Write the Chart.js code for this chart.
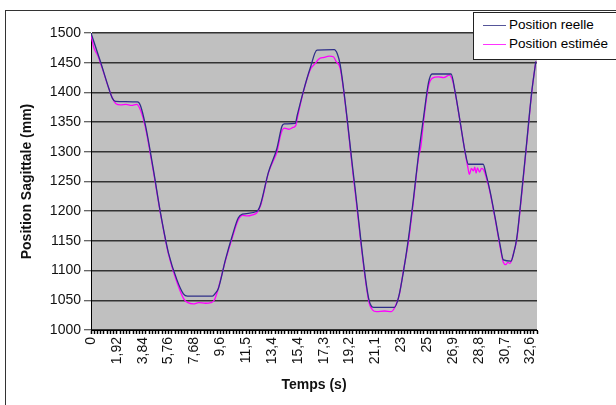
<!DOCTYPE html>
<html>
<head>
<meta charset="utf-8">
<script src="https://cdn.jsdelivr.net/npm/chart.js@4.4.1/dist/chart.umd.min.js"></script>
<style>
  html, body { margin: 0; padding: 0; background: #fff; overflow: hidden; }
  #wrap { position: relative; width: 616px; height: 405px; }
  #frame { position: absolute; left: 5px; top: 10px; width: 700px; height: 500px; border: 1px solid #333; }
  #legend { position: absolute; left: 473px; top: 12px; width: 200px; height: 46px; border: 1px solid #222;
            background: #fff; font: 13.5px "Liberation Sans", Arial, sans-serif; color: #000; }
  #legend .row { position: absolute; left: 9px; height: 16px; line-height: 16px; white-space: nowrap; }
  #legend .sw { display: inline-block; width: 23px; height: 0; border-top: 1px solid; vertical-align: middle; margin-right: 3px; }
</style>
</head>
<body>
<div id="wrap">
  <div id="frame"></div>
  <canvas id="c" width="616" height="405"></canvas>
  <div id="legend">
    <div class="row" style="top:4px"><span class="sw" style="border-color:#555599"></span>Position reelle</div>
    <div class="row" style="top:23px"><span class="sw" style="border-color:#ff33ff"></span>Position estimée</div>
  </div>
</div>
<script>
// Position sagittale, valeurs
const realTime = [0, 0.70, 1.32, 1.59, 1.82, 3.45, 3.67, 4.04, 4.64, 5.16, 5.75, 6.39, 6.86, 7.16, 9.01, 9.24, 9.46,
  9.98, 10.47, 10.94, 11.24, 12.33, 12.57, 13.17, 13.81, 14.18, 14.35, 15.17, 15.32, 15.76, 16.28, 16.78, 18.06,
  18.29, 18.51, 19.55, 20.61, 20.98, 22.52, 22.83, 23.20, 23.58, 23.95, 24.32, 24.69, 25.06, 25.33, 26.74, 27.04,
  27.41, 27.78, 28.03, 29.12, 29.34, 29.64, 30.01, 30.38, 30.62, 31.19, 31.34, 31.62, 31.99, 32.36, 32.73, 33.03];
const realPos = [1500, 1452, 1407, 1390, 1385, 1384, 1378, 1345, 1269, 1197, 1130, 1084, 1061, 1057, 1057, 1062, 1070,
  1118, 1157, 1189, 1195, 1200, 1210, 1265, 1306, 1343, 1347, 1348, 1362, 1401, 1441, 1471, 1472,
  1465, 1446, 1250, 1054, 1038, 1038, 1054, 1098, 1155, 1222, 1295, 1357, 1416, 1431, 1431, 1401,
  1351, 1300, 1279, 1279, 1262, 1233, 1189, 1143, 1118, 1116, 1125, 1155, 1233, 1317, 1401, 1452];

const estTime = [0, 0.2, 0.5, 0.8, 1.3, 1.6, 1.85, 2.2, 2.6, 3.0, 3.4, 3.6, 4.0, 4.64, 5.16, 5.75, 6.39, 6.9, 7.2,
  7.6, 8.0, 8.5, 8.9, 9.15, 9.4, 10.0, 10.5, 10.95, 11.25, 11.6, 12.0, 12.3, 12.6, 13.17, 13.5, 13.81, 14.1, 14.35,
  14.7, 15.0, 15.2, 15.35, 15.76, 16.28, 16.7, 16.9, 17.3, 17.7, 18.0, 18.2, 18.51, 19.55, 20.61, 20.9, 21.2, 21.8,
  22.3, 22.6, 22.9, 23.2, 23.58, 23.95, 24.32, 24.5, 24.69, 25.06, 25.35, 25.8, 26.2, 26.6, 26.85, 27.04, 27.41,
  27.78, 28.0, 28.1, 28.25, 28.4, 28.5, 28.6, 28.7, 28.85, 29.0, 29.15, 29.34, 29.64, 30.01, 30.38, 30.62, 30.8,
  30.95, 31.1, 31.25, 31.34, 31.62, 31.99, 32.36, 32.73, 33.03];
const estPos = [1497, 1476, 1462, 1443, 1408, 1390, 1381, 1379, 1380, 1378, 1380, 1374, 1345, 1266, 1196, 1128, 1080,
  1052, 1046, 1044, 1046, 1045, 1046, 1050, 1066, 1118, 1156, 1186, 1193, 1192, 1194, 1197, 1210, 1264, 1283, 1300,
  1330, 1340, 1338, 1341, 1344, 1360, 1400, 1438, 1450, 1456, 1459, 1461, 1460, 1452, 1440, 1245, 1050, 1034, 1031,
  1032, 1031, 1040, 1060, 1100, 1150, 1218, 1290, 1310, 1350, 1410, 1424, 1426, 1425, 1429, 1420, 1400, 1350,
  1299, 1272, 1262, 1272, 1268, 1274, 1264, 1273, 1266, 1272, 1270, 1258, 1231, 1187, 1140, 1114, 1110,
  1114, 1112, 1118, 1126, 1153, 1230, 1315, 1400, 1452];

const xTickLabels = ['0', '1,92', '3,84', '5,76', '7,68', '9,6', '11,5', '13,4', '15,4', '17,3', '19,2', '21,1',
  '23', '25', '26,9', '28,8', '30,7', '32,6'];

const toPoints = (ts, vs) => ts.map((t, i) => ({ x: t, y: vs[i] }));

const plotBg = {
  id: 'plotBg',
  beforeDraw(chart) {
    const { ctx, chartArea: a } = chart;
    ctx.save();
    ctx.fillStyle = '#c0c0c0';
    ctx.fillRect(a.left, a.top, a.right - a.left, a.bottom - a.top);
    ctx.restore();
  }
};

const font = { family: '"Liberation Sans", Arial, sans-serif', size: 14 };
const titleFont = { family: '"Liberation Sans", Arial, sans-serif', size: 14, weight: 'bold' };

new Chart(document.getElementById('c'), {
  type: 'line',
  data: {
    datasets: [{
      label: 'Position reelle',
      data: toPoints(realTime, realPos),
      borderColor: '#2e2e88',
      borderWidth: 1.3,
      pointRadius: 0,
      cubicInterpolationMode: 'monotone'
    }, {
      label: 'Position estimée',
      data: toPoints(estTime, estPos),
      borderColor: '#ff00ff',
      borderWidth: 1.3,
      pointRadius: 0,
      cubicInterpolationMode: 'monotone'
    }]
  },
  options: {
    responsive: false,
    animation: false,
    layout: { padding: { left: 5, top: 33, right: 79, bottom: 6 } },
    plugins: { legend: { display: false }, tooltip: { enabled: false } },
    scales: {
      x: {
        type: 'linear',
        min: 0,
        max: 33.12,
        afterFit: s => { s.height = 69; },
        grid: { drawOnChartArea: false, tickLength: 4, tickColor: '#000', tickWidth: 1.5 },
        border: { color: '#000', width: 1 },
        ticks: {
          stepSize: 0.24,
          autoSkip: false,
          maxRotation: 90,
          minRotation: 90,
          padding: 3,
          color: '#111',
          font: font,
          callback: (v, i) => i % 8 === 0 ? (xTickLabels[i / 8] || '') : ''
        },
        title: { display: true, text: 'Temps (s)', color: '#111', font: titleFont, padding: { top: 0, bottom: 5 } }
      },
      y: {
        min: 1000,
        max: 1500,
        afterFit: s => { s.width = 86; },
        grid: { color: '#333', lineWidth: 1.5, tickLength: 7, tickColor: '#333', tickWidth: 1 },
        border: { color: '#000', width: 1 },
        ticks: { stepSize: 50, padding: 3, color: '#111', font: font, callback: v => String(v) },
        title: { display: true, text: 'Position Sagittale (mm)', color: '#111', font: titleFont, padding: { top: 14, bottom: 0 } }
      }
    }
  },
  plugins: [plotBg]
});
</script>
</body>
</html>
